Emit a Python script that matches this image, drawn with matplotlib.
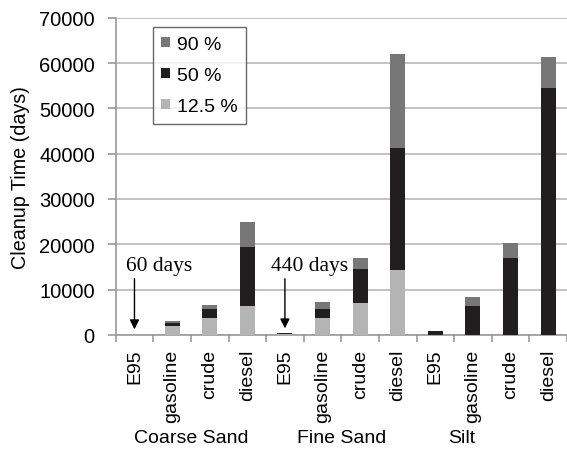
import matplotlib
matplotlib.use("Agg")
import matplotlib.pyplot as plt
import numpy as np

fuels = ["E95", "gasoline", "crude", "diesel"] * 3
groups = ["Coarse Sand", "Fine Sand", "Silt"]
p90 = [60, 3100, 6600, 24900, 440, 7200, 16900, 62000, 900, 8400, 20300, 61400]
p50 = [40, 2650, 5750, 19500, 300, 5800, 14500, 41200, 800, 6300, 16900, 54600]
p125 = [20, 2000, 3700, 6400, 150, 3700, 7000, 14400, 0, 0, 0, 0]
yticks = [0, 10000, 20000, 30000, 40000, 50000, 60000, 70000]

c90, c50, c125 = "#777777", "#221e1f", "#b4b4b4"

plt.rcParams['font.family'] = ['Liberation Sans', 'DejaVu Sans']
fig = plt.figure(figsize=(5.67, 4.60), dpi=100)
ax = fig.add_axes([0.204, 0.27, 0.796, 0.689])

x = np.arange(len(fuels))
w = 0.4
ax.bar(x, p90, w, color=c90, label="90 %", zorder=3)
ax.bar(x, p50, w, color=c50, label="50 %", zorder=3)
ax.bar(x, p125, w, color=c125, label="12.5 %", zorder=3)

ax.set_xlim(-0.5, len(fuels) - 0.5)
ax.set_ylim(0, 70000)
ax.set_yticks(yticks)
ax.set_yticklabels([str(v) for v in yticks], fontsize=14.5)
ax.yaxis.grid(True, color="#b8b8b8", lw=1.2, zorder=0)
ax.set_axisbelow(True)
for s in ["top", "right"]:
    ax.spines[s].set_visible(False)
ax.spines["left"].set_color("#999999")
ax.spines["bottom"].set_color("#999999")
ax.spines["left"].set_linewidth(1.2)
ax.spines["bottom"].set_linewidth(1.2)
ax.tick_params(axis="y", length=6, width=1.2, color="#999999", pad=9)

ax.set_xticks(x)
ax.set_xticklabels(fuels, rotation=90, fontsize=14)
ax.tick_params(axis="x", length=0, pad=10)
ax.set_xticks(np.arange(-0.5, len(fuels) + 0.5, 1), minor=True)
ax.tick_params(axis="x", which="minor", length=5, width=1.2, color="#999999", direction="out")

ax.set_ylabel("Cleanup Time (days)", fontsize=14.2)
ax.yaxis.set_label_coords(-0.19, 0.5)

group_x = [1.5, 5.5, 8.7]
for gx, g in zip(group_x, groups):
    ax.text(gx, -0.325, g, transform=ax.get_xaxis_transform(), ha="center",
            va="center", fontsize=14)

ax.annotate("", xy=(0, 600), xytext=(0, 13000),
            arrowprops=dict(arrowstyle="-|>", color="black", lw=1.0, mutation_scale=14))
ax.text(-0.22, 15200, "60 days", fontsize=15.5, family="Liberation Serif", va="center", ha="left")
ax.annotate("", xy=(4, 800), xytext=(4, 13000),
            arrowprops=dict(arrowstyle="-|>", color="black", lw=1.0, mutation_scale=14))
ax.text(3.62, 15200, "440 days", fontsize=15.5, family="Liberation Serif", va="center", ha="left")

leg = ax.legend(loc="upper left", bbox_to_anchor=(0.082, 0.97), fontsize=14,
                frameon=True, fancybox=False, edgecolor="#444444", handlelength=0.45,
                handleheight=0.45, handletextpad=0.35, borderpad=0.45, labelspacing=0.72,
                borderaxespad=0)
leg.get_frame().set_linewidth(1.0)

fig.savefig("out.png", dpi=100)
